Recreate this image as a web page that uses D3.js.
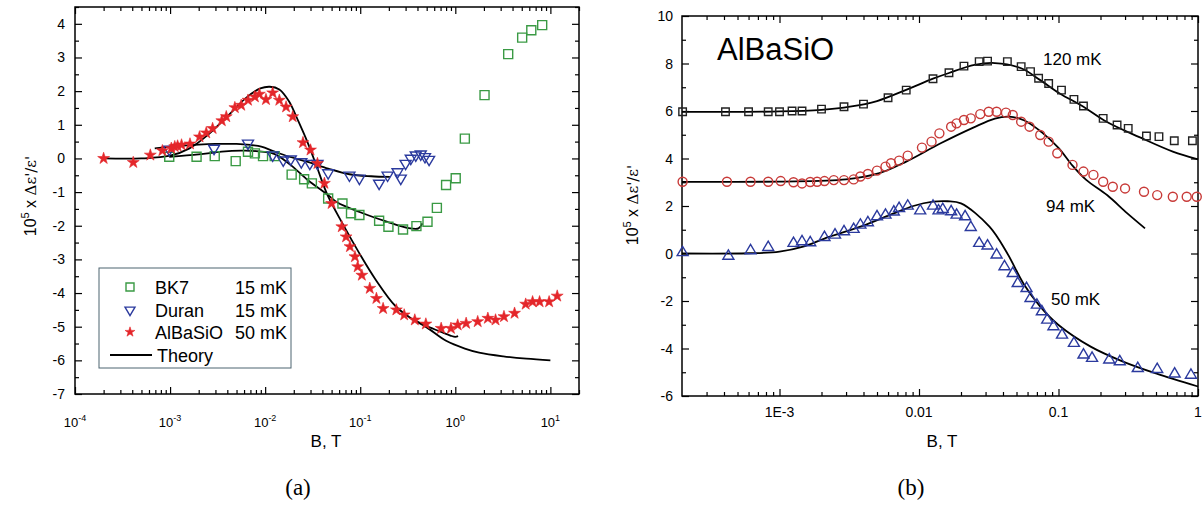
<!DOCTYPE html>
<html lang="en">
<head>
<meta charset="UTF-8">
<title>Dielectric response vs magnetic field</title>
<style>
  body { margin: 0; background: #fff; }
  svg { font-family: "Liberation Sans", Arial, sans-serif; }
  .frame { fill: none; stroke: #000; stroke-width: 1.5; }
  .tick line { stroke: #000; stroke-width: 1.2; }
  .theory { fill: none; stroke: #000; stroke-width: 1.8; }
</style>
</head>
<body>
<svg></svg>
<script src="https://d3js.org/d3.v7.min.js"></script>
<script>
// ----- panel (a): three glasses -----
var bk7B = [9.8e-4, 1.9e-3, 2.95e-3, 4.9e-3, 6.6e-3, 7.8e-3, 9.5e-3, 1.26e-2, 1.9e-2, 2.57e-2, 3.1e-2, 4.6e-2,
            6.5e-2, 8.0e-2, 9.8e-2, 0.158, 0.198, 0.282, 0.39, 0.51, 0.64, 0.80, 1.01, 1.26, 2.03, 3.6, 5.05, 6.3, 8.2];
var bk7V = [0.05, 0.05, 0.07, -0.08, 0.2, 0.15, 0.07, 0.07, -0.48, -0.62, -0.74, -1.19,
            -1.34, -1.63, -1.68, -1.85, -2.03, -2.11, -2.01, -1.88, -1.47, -0.79, -0.59, 0.59, 1.88, 3.10, 3.59, 3.81, 3.96];

var duranB = [9.8e-4, 2.9e-3, 6.6e-3, 1.2e-2, 1.55e-2, 1.86e-2, 2.4e-2, 2.95e-2, 3.55e-2, 4.6e-2, 7.7e-2,
              9.8e-2, 0.158, 0.194, 0.247, 0.267, 0.30, 0.34, 0.384, 0.433, 0.48, 0.53];
var duranV = [0.27, 0.30, 0.45, 0.10, -0.05, -0.02, -0.10, -0.15, -0.15, -0.43, -0.5,
              -0.59, -0.74, -0.5, -0.4, -0.59, -0.15, 0.0, 0.1, 0.13, 0.05, -0.03];

var albaB = [2.0e-4, 4.1e-4, 6.2e-4, 8.3e-4, 1.03e-3, 1.12e-3, 1.2e-3, 1.32e-3, 1.62e-3, 2.04e-3, 2.4e-3, 2.8e-3,
             3.5e-3, 3.9e-3, 4.8e-3, 5.6e-3, 6.6e-3, 7.8e-3, 8.7e-3, 1.02e-2, 1.2e-2, 1.41e-2, 1.66e-2, 1.95e-2,
             2.5e-2, 3.0e-2, 3.55e-2, 4.2e-2, 5.0e-2, 6.4e-2, 7.1e-2, 7.8e-2, 8.8e-2, 9.4e-2, 0.104, 0.126,
             0.148, 0.174, 0.24, 0.29, 0.375, 0.49, 0.71, 0.9, 1.06, 1.3, 1.72, 2.2, 2.65, 3.25, 4.2, 5.5,
             6.5, 7.7, 9.7, 11.8];
var albaV = [0, -0.12, 0.1, 0.23, 0.3, 0.35, 0.37, 0.4, 0.43, 0.64, 0.76, 0.89,
             1.12, 1.24, 1.51, 1.58, 1.73, 1.83, 1.91, 1.75, 1.95, 1.73, 1.53, 1.24,
             0.47, 0.25, -0.15, -0.74, -1.34, -2.03, -2.33, -2.62, -2.92, -3.22, -3.47, -3.86,
             -4.16, -4.46, -4.5, -4.65, -4.8, -4.92, -5.05, -5.05, -4.95, -4.9, -4.85, -4.75, -4.8, -4.7, -4.6, -4.33,
             -4.26, -4.26, -4.26, -4.09];

// theory curves, panel (a)
var thBk7B = [9.8e-4, 2e-3, 3.5e-3, 5.6e-3, 8e-3, 1.26e-2, 1.86e-2, 2.8e-2, 4.6e-2, 5.7e-2, 0.1, 0.19, 0.31, 0.41, 0.45];
var thBk7V = [0.05, 0.12, 0.2, 0.23, 0.22, 0.13, -0.2, -0.64, -1.09, -1.3, -1.6, -1.88, -2.06, -2.08, -1.93];
var thDurB = [6.9e-4, 1e-3, 2e-3, 3e-3, 5e-3, 7e-3, 9.1e-3, 1.26e-2, 1.8e-2, 2.8e-2, 4.6e-2, 7.7e-2, 0.13, 0.205];
var thDurV = [0.3, 0.35, 0.41, 0.43, 0.43, 0.4, 0.35, 0.2, 0.05, -0.1, -0.3, -0.47, -0.53, -0.55];
var thAlbaB = [2e-4, 5e-4, 1e-3, 1.6e-3, 2.5e-3, 4e-3, 6.3e-3, 8.9e-3, 1.12e-2, 1.41e-2, 1.78e-2, 2.24e-2, 2.82e-2,
               3.55e-2, 4.47e-2, 6.5e-2, 9.8e-2, 0.146, 0.237, 0.355, 0.5, 0.8, 1.26, 1.78, 3.2, 5.6, 10];
var thAlbaV = [0, 0, 0.08, 0.3, 0.7, 1.25, 1.8, 2.08, 2.13, 2.05, 1.7, 1.1, 0.45,
               -0.3, -1.05, -1.93, -2.82, -3.61, -4.4, -4.78, -5.02, -5.42, -5.65, -5.77, -5.88, -5.95, -6.0];
var thAlba2B = [0.355, 0.5, 0.7, 0.9, 1.0, 1.07];
var thAlba2V = [-4.78, -4.98, -5.15, -5.27, -5.3, -5.28];

// ----- panel (b): AlBaSiO at three temperatures -----
var t120B = [2.02e-4, 4.1e-4, 6.0e-4, 8.3e-4, 1.0e-3, 1.23e-3, 1.45e-3, 2.0e-3, 2.9e-3, 4.0e-3, 6.0e-3, 8.1e-3,
             1.26e-2, 1.64e-2, 2.1e-2, 2.7e-2, 3.1e-2, 4.3e-2, 5.4e-2, 6.3e-2, 7.2e-2, 8.5e-2, 0.105, 0.129,
             0.151, 0.209, 0.263, 0.316, 0.427, 0.525, 0.676, 0.912];
var t120V = [5.97, 5.97, 5.97, 5.97, 5.97, 6.0, 6.0, 6.08, 6.18, 6.29, 6.56, 6.88,
             7.36, 7.61, 7.89, 8.08, 8.1, 8.08, 7.87, 7.66, 7.38, 7.16, 6.88, 6.49,
             6.21, 5.69, 5.41, 5.27, 4.95, 4.92, 4.75, 4.75];

var t94B = [2.02e-4, 4.2e-4, 6.2e-4, 8.3e-4, 1.02e-3, 1.26e-3, 1.45e-3, 1.66e-3, 1.86e-3, 2.1e-3, 2.45e-3, 2.9e-3,
            3.4e-3, 3.8e-3, 4.3e-3, 5.0e-3, 5.75e-3, 6.3e-3, 7.2e-3, 8.3e-3, 1.05e-2, 1.23e-2, 1.4e-2, 1.7e-2,
            1.86e-2, 2.1e-2, 2.35e-2, 2.75e-2, 3.16e-2, 3.6e-2, 4.2e-2, 4.7e-2, 5.4e-2, 6.2e-2, 7.4e-2, 8.5e-2,
            9.8e-2, 0.126, 0.151, 0.178, 0.209, 0.245, 0.30, 0.41, 0.51, 0.66, 0.83, 0.98];
var t94V = [3.02, 3.02, 3.02, 3.02, 3.05, 3.0, 2.95, 3.01, 3.02, 3.05, 3.09, 3.09,
            3.12, 3.24, 3.35, 3.49, 3.66, 3.80, 3.91, 4.12, 4.46, 4.71, 5.06, 5.34,
            5.48, 5.62, 5.69, 5.87, 5.97, 5.97, 5.93, 5.83, 5.55, 5.34, 4.99, 4.71,
            4.22, 3.73, 3.45, 3.31, 3.02, 2.81, 2.74, 2.60, 2.46, 2.39, 2.39, 2.39];

var t50B = [2.02e-4, 4.3e-4, 6.2e-4, 8.3e-4, 1.26e-3, 1.45e-3, 1.66e-3, 2.1e-3, 2.5e-3, 2.9e-3, 3.4e-3, 3.8e-3,
            4.3e-3, 5.0e-3, 5.75e-3, 6.6e-3, 7.2e-3, 8.3e-3, 1.02e-2, 1.26e-2, 1.38e-2, 1.48e-2, 1.7e-2, 1.86e-2,
            2.14e-2, 2.35e-2, 2.7e-2, 3.1e-2, 3.6e-2, 4.1e-2, 4.7e-2, 5.1e-2, 5.9e-2, 6.3e-2, 7.0e-2, 7.6e-2, 8.3e-2,
            9.2e-2, 0.106, 0.129, 0.151, 0.174, 0.231, 0.275, 0.37, 0.51, 0.68, 0.89];
var t50V = [0.04, -0.11, 0.12, 0.26, 0.43, 0.5, 0.46, 0.68, 0.78, 0.92, 1.02, 1.2,
            1.3, 1.55, 1.62, 1.75, 1.9, 2.0, 1.8, 2.0, 1.8, 1.86, 1.76, 1.62,
            1.55, 1.1, 0.43, 0.32, -0.06, -0.55, -0.84, -1.26, -1.47, -1.89, -2.17, -2.45, -2.8,
            -3.08, -3.43, -3.78, -4.27, -4.41, -4.48, -4.55, -4.84, -4.88, -5.07, -5.12];

var th120B = [2e-4, 1e-3, 2e-3, 3.2e-3, 5e-3, 8e-3, 1.26e-2, 1.64e-2, 2.5e-2, 3.5e-2, 5.4e-2, 7.4e-2, 0.102, 0.151, 0.221, 0.38, 0.66, 1.0];
var th120V = [5.96, 5.98, 6.05, 6.18, 6.42, 6.88, 7.36, 7.6, 7.94, 8.02, 7.8, 7.3, 6.74, 6.18, 5.55, 4.9, 4.29, 3.96];
var th94B = [2e-4, 1e-3, 3e-3, 5.2e-3, 8.1e-3, 1.43e-2, 2.45e-2, 3.5e-2, 4.4e-2, 5.7e-2, 7.6e-2, 0.1, 0.126, 0.158, 0.224, 0.31, 0.417];
var th94V = [3.02, 3.03, 3.12, 3.38, 3.87, 4.64, 5.3, 5.68, 5.76, 5.6, 5.1, 4.45, 3.7, 3.1, 2.45, 1.7, 1.06];
var th50B = [2e-4, 6e-4, 1e-3, 1.5e-3, 2.1e-3, 3.8e-3, 6.6e-3, 9.1e-3, 1.26e-2, 1.6e-2, 2e-2, 3.2e-2, 4.3e-2, 5.6e-2,
             7.4e-2, 0.1, 0.17, 0.29, 0.5, 1.0];
var th50V = [0, 0.01, 0.08, 0.3, 0.63, 1.13, 1.69, 2.0, 2.18, 2.2, 2.11, 1.13, 0.0, -1.26,
             -2.24, -3.01, -3.92, -4.55, -5.05, -5.6];

var legendNames = ["BK7", "Duran", "AlBaSiO", "Theory"];
var legendTemps = ["15 mK", "15 mK", "50 mK", ""];
var ticksA_y = d3.range(-7, 5);
var ticksB_y = d3.range(-6, 11, 2);
var decadesA = [1e-4, 1e-3, 1e-2, 1e-1, 1, 10];
var decadesB = [1e-3, 1e-2, 1e-1, 1];
var labelsB_x = ["1E-3", "0.01", "0.1", "1"];

var svg = d3.select("svg").attr("width", 1202).attr("height", 505);

var green = "#3a9a44", blue = "#2b3a9e", red = "#e4262a", red2 = "#c83a38";

function logMinors(lo, hi) {
  var out = [];
  for (var e = Math.floor(Math.log10(lo)); e <= Math.ceil(Math.log10(hi)); e++) {
    for (var m = 2; m <= 9; m++) {
      var v = m * Math.pow(10, e);
      if (v >= lo * 0.999 && v <= hi * 1.001) out.push(v);
    }
  }
  return out;
}

function frameAndTicks(g, x, y, xMaj, xMin, yMaj, yMin) {
  var x0 = x.range()[0], x1 = x.range()[1], y0 = y.range()[0], y1 = y.range()[1];
  var axes = [
    [d3.axisBottom, x, y0, xMaj, xMin, true],
    [d3.axisTop, x, y1, xMaj, xMin, true],
    [d3.axisLeft, y, x0, yMaj, yMin, false],
    [d3.axisRight, y, x1, yMaj, yMin, false]
  ];
  axes.forEach(function (a) {
    [[a[3], -7], [a[4], -4]].forEach(function (s) {
      g.append("g")
        .attr("transform", a[5] ? "translate(0," + a[2] + ")" : "translate(" + a[2] + ",0)")
        .call(a[0](a[1]).tickValues(s[0]).tickSize(s[1]).tickFormat(""))
        .call(function (gg) { gg.select(".domain").remove(); });
    });
  });
  g.append("rect").attr("class", "frame")
    .attr("x", x0).attr("y", y1).attr("width", x1 - x0).attr("height", y0 - y1);
}

function triPath(w, down) {
  var h = w * 0.85, s = down ? 1 : -1;
  return "M" + (-w / 2) + "," + (-s * h / 3) + "L" + (w / 2) + "," + (-s * h / 3) + "L0," + (s * 2 * h / 3) + "Z";
}

function drawPoints(g, x, y, bs, vs, shape, color, size, filled) {
  var p;
  if (shape === "square") p = d3.symbol(d3.symbolSquare, size * size)();
  else if (shape === "star") p = d3.symbol(d3.symbolStar, size)();
  else if (shape === "circle") p = d3.symbol(d3.symbolCircle, Math.PI * size * size / 4)();
  else p = triPath(size, shape === "down");
  g.append("g").selectAll("path")
    .data(d3.zip(bs, vs))
    .enter().append("path")
    .attr("d", p)
    .attr("transform", function (d) { return "translate(" + x(d[0]) + "," + y(d[1]) + ")"; })
    .attr("fill", filled ? color : "none")
    .attr("stroke", color)
    .attr("stroke-width", filled ? 0.6 : 1.4);
}

function drawTheory(g, x, y, bs, vs) {
  var line = d3.line()
    .x(function (d) { return x(d[0]); })
    .y(function (d) { return y(d[1]); })
    .curve(d3.curveCatmullRom.alpha(0.5));
  g.append("path").datum(d3.zip(bs, vs)).attr("class", "theory").attr("d", line);
}

function yTitle(g, xPos, yPos) {
  var t = g.append("text")
    .attr("transform", "translate(" + xPos + "," + yPos + ") rotate(-90)")
    .attr("text-anchor", "middle")
    .attr("font-size", 16);
  t.append("tspan").text("10");
  t.append("tspan").attr("dy", -7).attr("font-size", 11).text("5");
  t.append("tspan").attr("dy", 7).text(" x ");
  t.append("tspan").attr("font-family", "'DejaVu Serif', serif").attr("font-size", 15).text("\u0394\u03b5'/\u03b5'");
}

// ================= panel (a) =================
var xA = d3.scaleLog().domain([1e-4, 20]).range([75, 579]);
var yA = d3.scaleLinear().domain([-7, 4.5]).range([394, 7]);
var gA = svg.append("g");

frameAndTicks(gA, xA, yA, decadesA, logMinors(1e-4, 20), ticksA_y, d3.range(-6.5, 4.6, 1));

gA.append("g").selectAll("text").data(ticksA_y).enter().append("text")
  .attr("x", 65).attr("y", function (d) { return yA(d) + 5; })
  .attr("text-anchor", "end").attr("font-size", 14)
  .text(function (d) { return d; });

gA.append("g").selectAll("text").data(decadesA).enter().append("text")
  .attr("x", function (d) { return xA(d); }).attr("y", 427)
  .attr("text-anchor", "middle").attr("font-size", 13)
  .each(function (d) {
    var t = d3.select(this);
    t.append("tspan").text("10");
    t.append("tspan").attr("dy", -6).attr("font-size", 9).text(Math.round(Math.log10(d)));
  });

gA.append("text").attr("x", 326).attr("y", 447).attr("text-anchor", "middle")
  .attr("font-size", 17).text("B, T");
yTitle(gA, 36, 196);

drawTheory(gA, xA, yA, thAlbaB, thAlbaV);
drawTheory(gA, xA, yA, thAlba2B, thAlba2V);
drawTheory(gA, xA, yA, thDurB, thDurV);
drawTheory(gA, xA, yA, thBk7B, thBk7V);

drawPoints(gA, xA, yA, bk7B, bk7V, "square", green, 9, false);
drawPoints(gA, xA, yA, duranB, duranV, "down", blue, 11, false);
drawPoints(gA, xA, yA, albaB, albaV, "star", red, 44, true);

// legend
var lg = gA.append("g");
lg.append("rect").attr("x", 99).attr("y", 268).attr("width", 192).attr("height", 100)
  .attr("fill", "#fff").attr("stroke", "#4d6470").attr("stroke-width", 1);
var rows = [287, 310, 332, 355];
var legSym = [
  d3.symbol(d3.symbolSquare, 64)(),
  triPath(10, true),
  d3.symbol(d3.symbolStar, 30)()
];
var legCol = [green, blue, red];
legendNames.forEach(function (name, i) {
  if (i < 3) {
    lg.append("path").attr("d", legSym[i])
      .attr("transform", "translate(130," + rows[i] + ")")
      .attr("fill", i === 2 ? red : "none").attr("stroke", legCol[i])
      .attr("stroke-width", i === 2 ? 0.6 : 1.4);
  } else {
    lg.append("line").attr("x1", 110).attr("x2", 152).attr("y1", rows[i]).attr("y2", rows[i])
      .attr("stroke", "#000").attr("stroke-width", 1.8);
  }
  lg.append("text").attr("x", i < 3 ? 155 : 157).attr("y", rows[i] + 6.5)
    .attr("font-size", 18).text(name);
  lg.append("text").attr("x", 287).attr("y", rows[i] + 6.5)
    .attr("text-anchor", "end").attr("font-size", 18).text(legendTemps[i]);
});

// ================= panel (b) =================
var xB = d3.scaleLog().domain([2e-4, 1]).range([682, 1198]);
var yB = d3.scaleLinear().domain([-6, 10]).range([396, 16]);
var gB = svg.append("g");

frameAndTicks(gB, xB, yB, decadesB, logMinors(2.5e-4, 1), ticksB_y, d3.range(-5, 10, 2));

gB.append("g").selectAll("text").data(ticksB_y).enter().append("text")
  .attr("x", 673).attr("y", function (d) { return yB(d) + 5; })
  .attr("text-anchor", "end").attr("font-size", 14)
  .text(function (d) { return d; });

gB.append("g").selectAll("text").data(decadesB).enter().append("text")
  .attr("x", function (d) { return xB(d); }).attr("y", 417)
  .attr("text-anchor", "middle").attr("font-size", 14)
  .text(function (d, i) { return labelsB_x[i]; });

gB.append("text").attr("x", 942).attr("y", 447).attr("text-anchor", "middle")
  .attr("font-size", 17).text("B, T");
yTitle(gB, 638, 205);

gB.append("text").attr("x", 717).attr("y", 60).attr("font-size", 31).text("AlBaSiO");
gB.append("text").attr("x", 1043).attr("y", 65).attr("font-size", 17).text("120 mK");
gB.append("text").attr("x", 1046).attr("y", 212).attr("font-size", 17).text("94 mK");
gB.append("text").attr("x", 1051).attr("y", 305).attr("font-size", 17).text("50 mK");

drawTheory(gB, xB, yB, th120B, th120V);
drawTheory(gB, xB, yB, th94B, th94V);
drawTheory(gB, xB, yB, th50B, th50V);

drawPoints(gB, xB, yB, t120B, t120V, "square", "#222", 7.5, false);
drawPoints(gB, xB, yB, t94B, t94V, "circle", red2, 9, false);
drawPoints(gB, xB, yB, t50B, t50V, "up", blue, 11, false);

// panel captions
svg.append("text").attr("x", 298).attr("y", 495).attr("text-anchor", "middle")
  .attr("font-family", "'Liberation Serif', 'Times New Roman', serif").attr("font-size", 23).text("(a)");
svg.append("text").attr("x", 911).attr("y", 495).attr("text-anchor", "middle")
  .attr("font-family", "'Liberation Serif', 'Times New Roman', serif").attr("font-size", 23).text("(b)");
</script>
</body>
</html>
